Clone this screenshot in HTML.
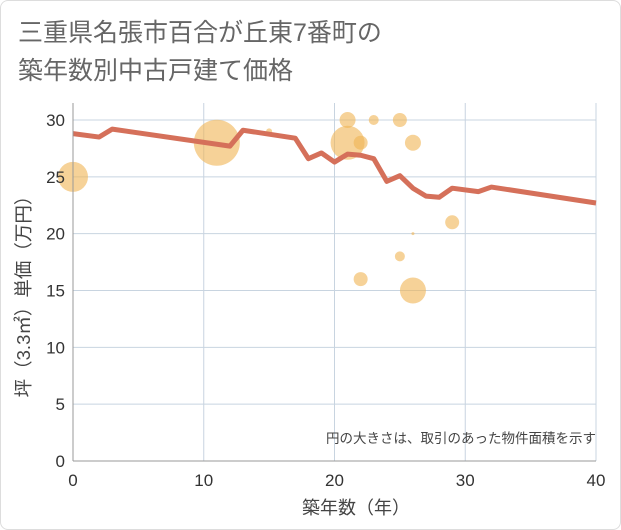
<!DOCTYPE html>
<html><head><meta charset="utf-8"><style>
body{margin:0;background:#fff;}
#c{position:relative;width:619px;height:528px;border:1px solid #ddd;border-radius:8px;overflow:hidden;background:#fff;font-family:"Liberation Sans","Noto Sans CJK JP",sans-serif;}
</style></head><body>
<div id="c">
<svg width="621" height="530" style="position:absolute;left:-1px;top:-1px">
<text x="18" y="41" font-size="25" fill="#666" font-family="Liberation Sans,Noto Sans CJK JP,sans-serif">三重県名張市百合が丘東7番町の</text>
<text x="18" y="79" font-size="25" fill="#666" font-family="Liberation Sans,Noto Sans CJK JP,sans-serif">築年数別中古戸建て価格</text>
<g id="grid"></g><g id="bub"></g><g id="ln"></g><g id="ax"></g>
<text x="596" y="443" font-size="13.5" fill="#444" text-anchor="end" font-family="Liberation Sans,Noto Sans CJK JP,sans-serif">円の大きさは、取引のあった物件面積を示す</text>
<text x="356" y="514" font-size="18" fill="#444" text-anchor="middle" font-family="Liberation Sans,Noto Sans CJK JP,sans-serif">築年数（年）</text>
<text transform="translate(30,292) rotate(-90)" font-size="18.5" fill="#444" text-anchor="middle" font-family="Liberation Sans,Noto Sans CJK JP,sans-serif">坪（3.3㎡）単価（万円）</text>
</svg></div>
<script>
const xTicks=[0,10,20,30,40];
const yTicks=[0,5,10,15,20,25,30];
const lineYears=[0,2,3,12,13,17,18,19,20,21,22,23,24,25,26,27,28,29,31,32,40];
const lineValues=[28.8,28.5,29.2,27.7,29.1,28.4,26.6,27.1,26.3,27.0,26.9,26.6,24.6,25.1,24.0,23.3,23.2,24.0,23.7,24.1,22.7];
const bubbleYears=[0,11,15,21,21,22,23,25,26,29,26,25,22,26];
const bubbleValues=[25,28,29,30,28,28,30,30,28,21,20,18,16,15];
const bubbleSizes=[15,23,3,8,17,7,5,7,8,7,1.5,5,7,13];
const NS="http://www.w3.org/2000/svg";
const X0=73,X1=596,Y0=461,Y1=120;
const sx=v=>X0+(v-0)/(40-0)*(X1-X0);
const sy=v=>Y0-(v/30)*(Y0-Y1);
function mk(t,a,p){const e=document.createElementNS(NS,t);for(const k in a)e.setAttribute(k,a[k]);p.appendChild(e);return e;}
const grid=document.getElementById('grid'),ax=document.getElementById('ax');
mk('rect',{x:X0,y:103,width:X1-X0,height:Y0-103,fill:'#fff'},grid);
yTicks.forEach(v=>{const l=mk('line',{x1:X0,x2:X1,y1:sy(v),y2:sy(v),stroke:'#c8d4e0','stroke-width':1},grid);

const t=mk('text',{x:X0-8,y:sy(v)+6,'text-anchor':'end','font-size':17,fill:'#333','font-family':'Liberation Sans,sans-serif'},ax);t.textContent=v;
});
xTicks.forEach(v=>{const l=mk('line',{x1:sx(v),x2:sx(v),y1:103,y2:Y0,stroke:'#c8d4e0','stroke-width':1},grid);

const t=mk('text',{x:sx(v),y:Y0+25,'text-anchor':'middle','font-size':17,fill:'#333','font-family':'Liberation Sans,sans-serif'},ax);t.textContent=v;
});
const al=mk('line',{x1:X0,x2:X0,y1:103,y2:Y0,stroke:'#999'},ax);
const bl=mk('line',{x1:X0,x2:X1,y1:Y0,y2:Y0,stroke:'#999'},ax);
const bub=document.getElementById('bub');
bubbleYears.forEach((y,i)=>{const c=mk('circle',{cx:sx(y),cy:sy(bubbleValues[i]),r:bubbleSizes[i],fill:'#f0b453','fill-opacity':0.6},bub);
});
const p=mk('polyline',{points:lineYears.map((y,i)=>sx(y)+','+sy(lineValues[i])).join(' '),fill:'none',stroke:'#d5705a','stroke-width':5,'stroke-linejoin':'round'},document.getElementById('ln'));

</script></body></html>
